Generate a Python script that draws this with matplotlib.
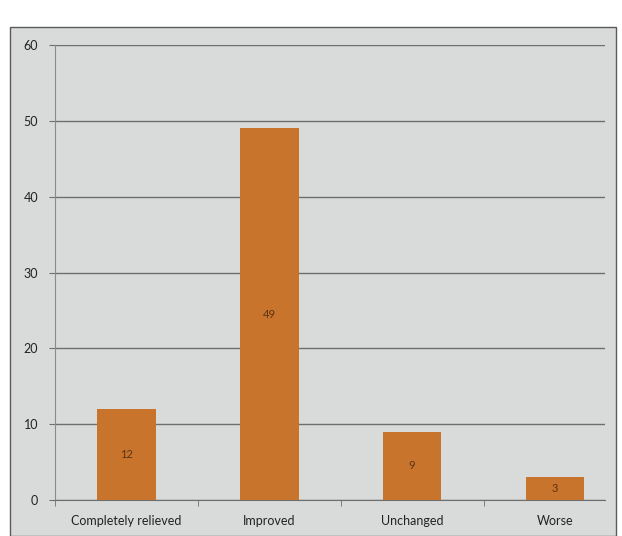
import matplotlib.pyplot as plt
import numpy as np
from matplotlib.patches import Rectangle

categories = ["Completely relieved", "Improved", "Unchanged", "Worse"]
counts = [12, 49, 9, 3]
y_ticks = [0, 10, 20, 30, 40, 50, 60]

PAGE_GREY = "#d9dbdb"
BAR_COLOR = "#c8742c"
GRID_COLOR = "#6e6e6e"
TEXT_COLOR = "#222222"

plt.rcParams["font.family"] = ["Lato", "DejaVu Sans"]

fig = plt.figure(figsize=(6.22, 5.36), dpi=100, facecolor="white")

# chart frame on the page, kept behind the axes
fig.patches.append(
    Rectangle((0.016, 0.0), 0.975, 0.95, transform=fig.transFigure,
              facecolor=PAGE_GREY, edgecolor="#5a5a5a", linewidth=1.0, zorder=-10)
)

ax = fig.add_axes([0.088, 0.067, 0.885, 0.849])
ax.set_facecolor("none")

x = np.arange(len(categories))
bars = ax.bar(x, counts, width=0.41, color=BAR_COLOR, edgecolor="none", zorder=3)
for rect, value in zip(bars, counts):
    ax.text(rect.get_x() + rect.get_width() / 2, value / 2, str(value),
            ha="center", va="center", fontsize=8, color="#5a3414", zorder=4)

ax.set_xlim(-0.5, len(categories) - 0.65)
ax.set_ylim(0, 60)
ax.set_yticks(y_ticks)
ax.yaxis.grid(True, color=GRID_COLOR, linewidth=1.0, zorder=1)
ax.set_axisbelow(True)

ax.set_xticks(x)
ax.set_xticklabels(categories, fontsize=9, color=TEXT_COLOR)
ax.tick_params(axis="x", length=0, pad=11)
ax.set_xticks(np.arange(len(categories)) - 0.5, minor=True)
ax.tick_params(axis="x", which="minor", length=4, color=GRID_COLOR)
ax.tick_params(axis="y", labelsize=9, labelcolor=TEXT_COLOR, length=4,
               color=GRID_COLOR, pad=8)

for spine in ("top", "right"):
    ax.spines[spine].set_visible(False)
ax.spines["left"].set_color("#8a8a8a")
ax.spines["bottom"].set_color(GRID_COLOR)

fig.savefig("out.png", dpi=100, facecolor=fig.get_facecolor())
